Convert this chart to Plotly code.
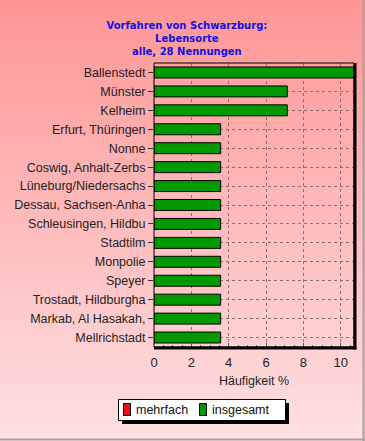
import plotly.graph_objects as go

categories = ["Ballenstedt", "Münster", "Kelheim", "Erfurt, Thüringen", "Nonne",
              "Coswig, Anhalt-Zerbs", "Lüneburg/Niedersachs", "Dessau, Sachsen-Anha",
              "Schleusingen, Hildbu", "Stadtilm", "Monpolie", "Speyer",
              "Trostadt, Hildburgha", "Markab, Al Hasakah,", "Mellrichstadt"]
insgesamt = [10.71, 7.14, 7.14, 3.57, 3.57, 3.57, 3.57, 3.57, 3.57, 3.57, 3.57, 3.57, 3.57, 3.57, 3.57]
mehrfach = [None] * len(categories)
x_ticks = [0, 2, 4, 6, 8, 10]
legend_names = ["mehrfach", "insgesamt"]
legend_colors = ["#ee1111", "#009900"]

W, H = 365, 441
L, R, T, B = 154, 11, 63, 94
pw, ph = W - L - R, H - T - B

def px(x):
    return (x - L) / pw

def py(y):
    return (H - B - y) / ph

fig = go.Figure()
fig.add_trace(go.Bar(name="mehrfach", y=categories, x=mehrfach, orientation="h", showlegend=False,
                     marker=dict(color=legend_colors[0], line=dict(color="black", width=1))))
fig.add_trace(go.Bar(name="insgesamt", y=categories, x=insgesamt, orientation="h", showlegend=False,
                     marker=dict(color=legend_colors[1], line=dict(color="black", width=1))))

shapes = []
annotations = []
# gradient background
N = 60
top = (255, 150, 150)
bot = (255, 224, 226)
for i in range(N):
    f = i / (N - 1)
    c = tuple(int(round(top[k] + (bot[k] - top[k]) * f)) for k in range(3))
    y0 = i * H / N
    y1 = (i + 1) * H / N + 1
    shapes.append(dict(type="rect", xref="paper", yref="paper", layer="below",
                       x0=px(0), x1=px(W), y0=py(y1), y1=py(y0),
                       fillcolor="rgb(%d,%d,%d)" % c, line=dict(width=0)))
# figure border (right, bottom)
shapes.append(dict(type="line", xref="paper", yref="paper", layer="above",
                   x0=px(W - 1.5), x1=px(W - 1.5), y0=py(H), y1=py(0),
                   line=dict(color="#a8a0a0", width=2)))
shapes.append(dict(type="line", xref="paper", yref="paper", layer="above",
                   x0=px(0), x1=px(W), y0=py(H - 1.5), y1=py(H - 1.5),
                   line=dict(color="#a8a0a0", width=2)))
# plot frame
shapes.append(dict(type="rect", xref="paper", yref="paper", layer="above",
                   x0=0, x1=1, y0=0, y1=1, line=dict(color="black", width=1)))
shapes.append(dict(type="line", xref="paper", yref="paper", layer="above",
                   x0=0, x1=1 + 2.5 / pw, y0=-1 / ph, y1=-1 / ph, line=dict(color="black", width=3)))
shapes.append(dict(type="line", xref="paper", yref="paper", layer="above",
                   x0=1 + 1 / pw, x1=1 + 1 / pw, y0=-2.5 / ph, y1=1, line=dict(color="black", width=3)))
# legend box with shadow
shapes.append(dict(type="rect", xref="paper", yref="paper", layer="above",
                   x0=px(122), x1=px(289), y0=py(424), y1=py(403),
                   fillcolor="black", line=dict(width=0)))
shapes.append(dict(type="rect", xref="paper", yref="paper", layer="above",
                   x0=px(118.5), x1=px(285.5), y0=py(420.5), y1=py(399.5),
                   fillcolor="white", line=dict(color="black", width=1)))
icon_x = [123.5, 199.5]
text_x = [134, 210]
for i, name in enumerate(legend_names):
    shapes.append(dict(type="rect", xref="paper", yref="paper", layer="above",
                       x0=px(icon_x[i]), x1=px(icon_x[i] + 7), y0=py(415.5), y1=py(403.5),
                       fillcolor=legend_colors[i], line=dict(color="black", width=1)))
    annotations.append(dict(text=name, xref="paper", yref="paper", x=px(text_x[i]), y=py(410),
                            xanchor="left", yanchor="middle", showarrow=False,
                            font=dict(size=12.5, color="#111")))

fig.update_layout(
    width=W, height=H,
    margin=dict(l=L, r=R, t=T, b=B, autoexpand=False),
    paper_bgcolor="rgba(0,0,0,0)",
    plot_bgcolor="rgba(0,0,0,0)",
    barmode="overlay",
    bargap=0.42,
    showlegend=False,
    font=dict(family="Liberation Sans, Arial, sans-serif", size=12, color="#1a1a1a"),
    title=dict(text="<b>Vorfahren von Schwarzburg:<br>Lebensorte<br>alle, 28 Nennungen</b>",
               x=0.512, xanchor="center", y=1 - 29 / H, yanchor="top",
               font=dict(family="DejaVu Sans, Verdana, sans-serif", size=10, color="#1010e0")),
    xaxis=dict(range=[0, 10.714], tickvals=x_ticks, ticks="inside", ticklen=4,
               tickcolor="#555", showgrid=True, gridcolor="#8a7070", griddash="3px,3px",
               gridwidth=1, zeroline=False, showline=False, automargin=False,
               ticklabelstandoff=6,
               minor=dict(ticks="inside", ticklen=2, dtick=0.5, tickcolor="#555", showgrid=False),
               tickfont=dict(size=13, color="#222"),
               title=dict(text="Häufigkeit %", standoff=7, font=dict(size=12.5, color="#222"))),
    yaxis=dict(autorange="reversed", ticks="outside", ticklen=5, tickcolor="#333",
               showgrid=True, gridcolor="#8a7070", griddash="3px,3px", gridwidth=1,
               showline=False, automargin=False, tickfont=dict(size=12.5, color="#222")),
    shapes=shapes,
    annotations=annotations,
)

fig.write_html("out.html", config={"displayModeBar": False, "responsive": False},
               post_script="document.body.style.margin='0';document.body.style.padding='0';")
